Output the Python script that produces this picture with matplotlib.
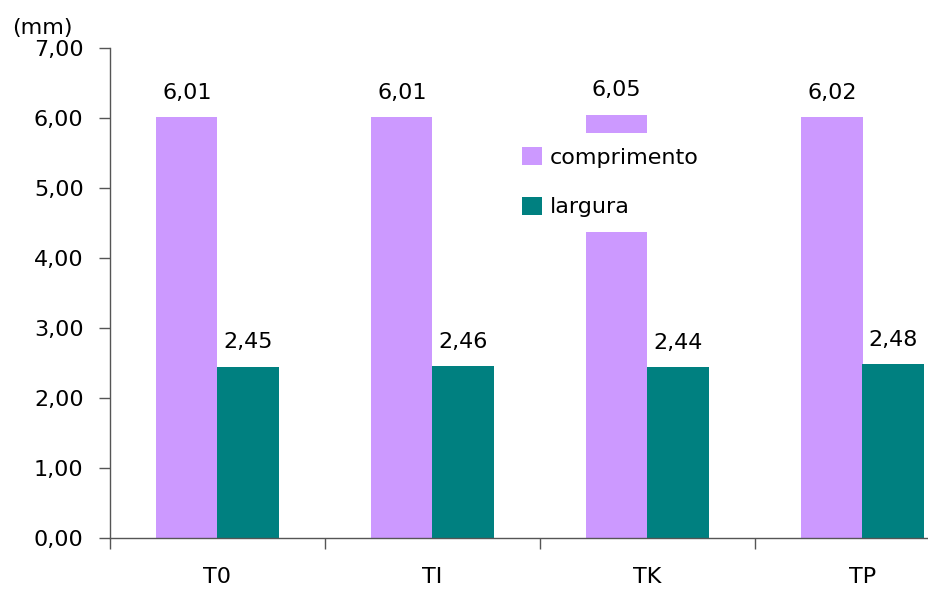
import matplotlib
matplotlib.use("Agg")
import matplotlib.pyplot as plt
import numpy as np

categories = ["T0", "TI", "TK", "TP"]
comprimento = [6.01, 6.01, 6.05, 6.02]
largura = [2.45, 2.46, 2.44, 2.48]
yticks = [0, 1, 2, 3, 4, 5, 6, 7]

plt.rcParams["font.family"] = ["DejaVu Sans"]
FS = 16

fig = plt.figure(figsize=(9.29, 5.90), dpi=100)
ax = fig.add_axes([110 / 929, 52 / 590, 860 / 929, 490 / 590])

x = np.arange(len(categories))
w = 0.286
purple = "#CC99FF"
teal = "#008080"

b1 = ax.bar(x - w / 2, comprimento, w, color=purple, label="comprimento", zorder=2)
b2 = ax.bar(x + w / 2, largura, w, color=teal, label="largura", zorder=2)

def fmt(v):
    return f"{v:.2f}".replace(".", ",")

for bars, vals in ((b1, comprimento), (b2, largura)):
    for r, v in zip(bars, vals):
        ax.annotate(fmt(v), (r.get_x() + r.get_width() / 2, v),
                    xytext=(0, 13), textcoords="offset points",
                    ha="center", va="baseline", fontsize=FS, zorder=3)

ax.set_xlim(-0.5, len(categories) - 0.5)
ax.set_ylim(0, 7)
ax.set_yticks(yticks)
ax.set_yticklabels([fmt(v) for v in yticks], fontsize=FS)
ax.set_xticks(x)
ax.set_xticklabels(categories, fontsize=FS)
ax.set_xticks(np.arange(len(categories) + 1) - 0.5, minor=True)
ax.tick_params(axis="x", which="major", length=0, pad=21)
ax.tick_params(axis="x", which="minor", length=8, width=1, color="#555555", direction="out")
ax.tick_params(axis="y", length=8, width=1, color="#555555", direction="out", pad=11)

for s in ("top", "right"):
    ax.spines[s].set_visible(False)
for s in ("left", "bottom"):
    ax.spines[s].set_color("#555555")
    ax.spines[s].set_linewidth(1)

ax.text(12 / 929, 1 - 28 / 590, "(mm)", transform=fig.transFigure,
        fontsize=FS, ha="left", va="center")

leg = ax.legend(loc="upper left", bbox_to_anchor=(508 / 929, 1 - 133 / 590),
                bbox_transform=fig.transFigure, fontsize=FS,
                frameon=True, fancybox=False, framealpha=1,
                handlelength=0.9, handleheight=0.85, handletextpad=0.35,
                labelspacing=1.3, borderpad=0.65, borderaxespad=0)
leg.get_frame().set_edgecolor("none")
leg.get_frame().set_facecolor("white")
leg.set_zorder(5)

fig.savefig("out.png", dpi=100)
